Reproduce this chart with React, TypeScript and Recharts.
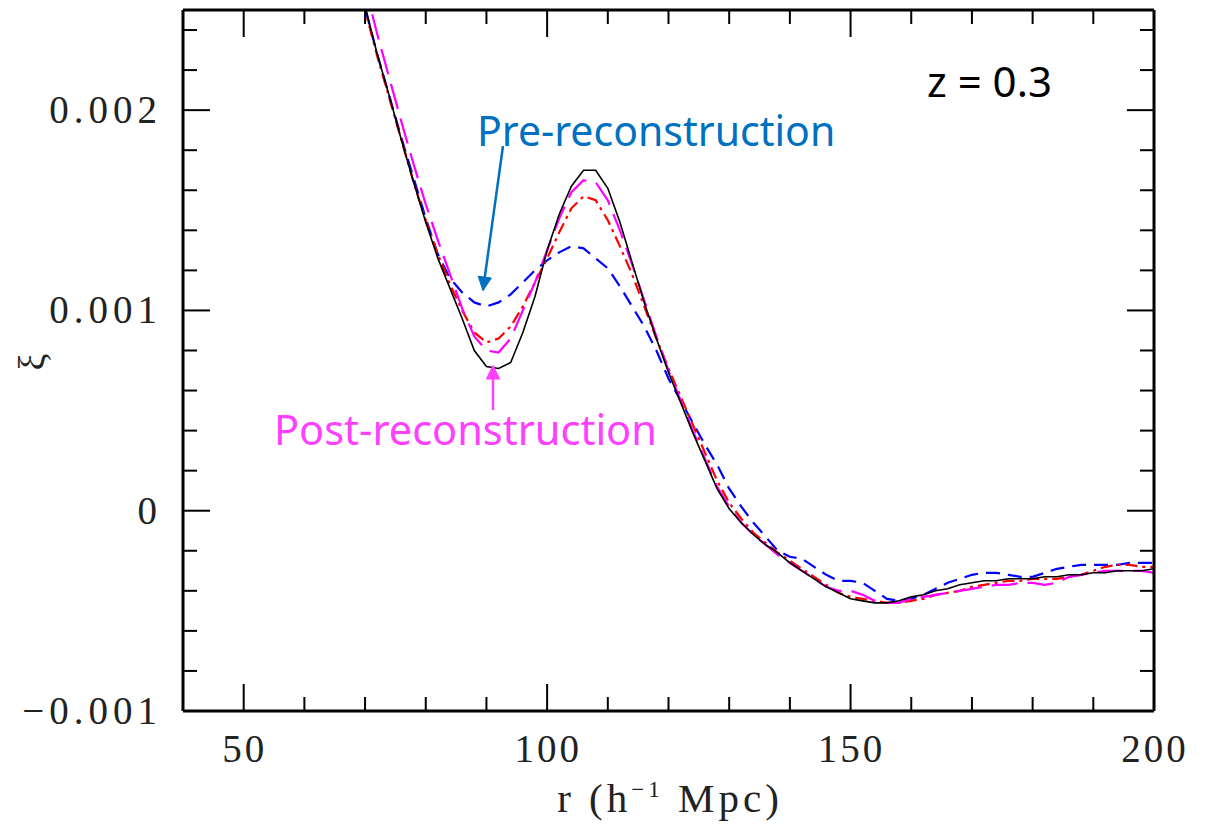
import { LineChart, Line, XAxis, YAxis } from "recharts"

// r in h^-1 Mpc
const rValues = [
  66, 68, 70, 72, 74, 76, 78, 80, 82, 84, 86, 88, 90, 92, 94, 96, 98, 100,
  102, 104, 106, 108, 110, 112, 114, 116, 118, 120, 122, 124, 126, 128, 130,
  132, 134, 136, 138, 140, 142, 144, 146, 148, 150, 152, 154, 156, 158, 160,
  162, 164, 166, 168, 170, 172, 174, 176, 178, 180, 182, 184, 186, 188, 190,
  192, 194, 196, 198, 200,
]

// black solid (linear theory)
const xiLinear = [
  0.00305, 0.00278, 0.00252, 0.00228, 0.00207, 0.00185, 0.00164, 0.00144,
  0.00126, 0.00111, 0.00096, 0.0008, 0.00072, 0.00071, 0.00074, 0.00089,
  0.00107, 0.0013, 0.00148, 0.00162, 0.0017, 0.0017, 0.00161, 0.00144,
  0.00124, 0.00104, 0.00086, 0.00069, 0.00054, 0.00039, 0.00025, 0.00011,
  0.00001, -0.00006, -0.00012, -0.00017, -0.00021, -0.00026, -0.0003,
  -0.00034, -0.00038, -0.00041, -0.00044, -0.00045, -0.00046, -0.00046,
  -0.00045, -0.00043, -0.00042, -0.0004, -0.00039, -0.00037, -0.00036,
  -0.00035, -0.00035, -0.00034, -0.00034, -0.00034, -0.00033, -0.00033,
  -0.00032, -0.00032, -0.00031, -0.00031, -0.0003, -0.0003, -0.0003, -0.00029,
]

// red dash-dot
const xiRed = [
  0.00303, 0.00276, 0.0025, 0.00227, 0.00206, 0.00185, 0.00164, 0.00145,
  0.00128, 0.00113, 0.001, 0.00089, 0.00084, 0.00086, 0.00092, 0.00102,
  0.00114, 0.00126, 0.00139, 0.00151, 0.00157, 0.00155, 0.00145, 0.00132,
  0.00118, 0.00102, 0.00086, 0.00071, 0.00057, 0.00043, 0.00029, 0.00015,
  0.00004, -0.00004, -0.00011, -0.00016, -0.00021, -0.00025, -0.00029,
  -0.00033, -0.00037, -0.00041, -0.00043, -0.00044, -0.00045, -0.00046,
  -0.00046, -0.00045, -0.00044, -0.00042, -0.00041, -0.0004, -0.00038,
  -0.00037, -0.00036, -0.00035, -0.00035, -0.00034, -0.00034, -0.00034,
  -0.00033, -0.00032, -0.0003, -0.00028, -0.00027, -0.00027, -0.00028, -0.00028,
]

// magenta long dash (post-reconstruction)
const xiPost = [
  0.00318, 0.0029, 0.00262, 0.00238, 0.00216, 0.00194, 0.00173, 0.00153,
  0.00135, 0.00118, 0.00101, 0.00087, 0.0008, 0.00079, 0.00086, 0.001,
  0.00114, 0.0013, 0.00146, 0.00159, 0.00165, 0.00164, 0.00155, 0.0014,
  0.00123, 0.00105, 0.00087, 0.0007, 0.00055, 0.0004, 0.00026, 0.00012,
  0.00002, -0.00006, -0.00012, -0.00017, -0.00022, -0.00026, -0.0003,
  -0.00034, -0.00038, -0.0004, -0.0004, -0.00042, -0.00045, -0.00046,
  -0.00046, -0.00044, -0.00043, -0.00042, -0.00041, -0.0004, -0.00039,
  -0.00038, -0.00037, -0.00037, -0.00036, -0.00036, -0.00037, -0.00036,
  -0.00033, -0.00032, -0.00031, -0.0003, -0.0003, -0.0003, -0.0003, -0.00031,
]

// blue dashed (pre-reconstruction)
const xiPre = [
  0.00303, 0.00277, 0.00251, 0.00228, 0.00207, 0.00186, 0.00166, 0.00146,
  0.00128, 0.00116, 0.00109, 0.00104, 0.00102, 0.00104, 0.00108, 0.00114,
  0.0012, 0.00125, 0.00129, 0.00132, 0.00131, 0.00126, 0.00121, 0.00112,
  0.00102, 0.00092, 0.0008, 0.00066, 0.00055, 0.00044, 0.00033, 0.00023,
  0.00011, 0.00002, -0.00006, -0.00013, -0.0002, -0.00023, -0.00024,
  -0.00028, -0.00032, -0.00035, -0.00035, -0.00036, -0.0004, -0.00044,
  -0.00045, -0.00044, -0.00042, -0.00039, -0.00036, -0.00034, -0.00032,
  -0.00031, -0.00031, -0.00032, -0.00033, -0.00033, -0.00031, -0.00029,
  -0.00028, -0.00027, -0.00027, -0.00027, -0.00027, -0.00026, -0.00026, -0.00026,
]

const xTicks = [40, 50, 60, 70, 80, 90, 100, 110, 120, 130, 140, 150, 160, 170, 180, 190, 200]
const xLabels = [50, 100, 150, 200]
const yTicks = [
  -0.001, -0.0008, -0.0006, -0.0004, -0.0002, 0, 0.0002, 0.0004, 0.0006,
  0.0008, 0.001, 0.0012, 0.0014, 0.0016, 0.0018, 0.002, 0.0022, 0.0024,
]
const yLabels = ["\u22120.001", "0", "0.001", "0.002"]

const data = rValues.map((r, i) => ({
  r,
  lin: xiLinear[i],
  red: xiRed[i],
  post: xiPost[i],
  pre: xiPre[i],
}))

const MAJOR = 27
const MINOR = 14
const numFont = "'Liberation Serif', serif"

const isMajorY = (v: number) => Math.abs(v * 1000 - Math.round(v * 1000)) < 1e-9
const fmtY = (v: number) => {
  const k = Math.round(v * 1000)
  if (k === 0) return yLabels[1]
  if (k === -1) return yLabels[0]
  if (k === 1) return yLabels[2]
  if (k === 2) return yLabels[3]
  return ""
}

function BottomTick({ x, y, payload }: any) {
  const v = payload.value
  const major = v % 50 === 0
  return (
    <g>
      <line x1={x} x2={x} y1={y} y2={y - (major ? MAJOR : MINOR)} stroke="#000" strokeWidth={2} />
      {xLabels.includes(v) && (
        <text x={x + 1} y={y + 51} textAnchor="middle" fontFamily={numFont} fontSize={39} fill="#222" letterSpacing={3}>
          {v}
        </text>
      )}
    </g>
  )
}

function TopTick({ x, y, payload }: any) {
  const major = payload.value % 50 === 0
  return <line x1={x} x2={x} y1={y} y2={y + (major ? MAJOR : MINOR)} stroke="#000" strokeWidth={2} />
}

function LeftTick({ x, y, payload }: any) {
  const v = payload.value
  const major = isMajorY(v)
  return (
    <g>
      <line x1={x} x2={x + (major ? MAJOR : MINOR)} y1={y} y2={y} stroke="#000" strokeWidth={2} />
      {major && (
        <text x={x - 21} y={y + 13} textAnchor="end" fontFamily={numFont} fontSize={39} fill="#222" letterSpacing={5}>
          {fmtY(v)}
        </text>
      )}
    </g>
  )
}

function RightTick({ x, y, payload }: any) {
  const major = isMajorY(payload.value)
  return <line x1={x} x2={x - (major ? MAJOR : MINOR)} y1={y} y2={y} stroke="#000" strokeWidth={2} />
}

export default function App() {
  const frame = { stroke: "#000", strokeWidth: 3 }
  const annoFont = "'Noto Sans', sans-serif"
  return (
    <div style={{ position: "absolute", left: 0, top: 0, width: 1214, height: 825, background: "#fff" }}>
      <LineChart
        width={1214}
        height={825}
        data={data}
        margin={{ top: 9, right: 59, bottom: 54, left: 8 }}
      >
        <XAxis
          dataKey="r"
          type="number"
          domain={[40, 200]}
          ticks={xTicks}
          interval={0}
          height={60}
          tickSize={0}
          tickMargin={0}
          tickLine={false}
          axisLine={frame}
          tick={<BottomTick />}
          allowDataOverflow
        />
        <XAxis
          xAxisId="top"
          orientation="top"
          dataKey="r"
          type="number"
          domain={[40, 200]}
          ticks={xTicks}
          interval={0}
          height={1}
          tickSize={0}
          tickMargin={0}
          tickLine={false}
          axisLine={frame}
          tick={<TopTick />}
          allowDataOverflow
        />
        <YAxis
          type="number"
          domain={[-0.001, 0.0025]}
          ticks={yTicks}
          interval={0}
          width={175}
          tickSize={0}
          tickMargin={0}
          tickLine={false}
          axisLine={frame}
          tick={<LeftTick />}
          allowDataOverflow
        />
        <YAxis
          yAxisId="right"
          orientation="right"
          type="number"
          domain={[-0.001, 0.0025]}
          ticks={yTicks}
          interval={0}
          width={1}
          tickSize={0}
          tickMargin={0}
          tickLine={false}
          axisLine={frame}
          tick={<RightTick />}
          allowDataOverflow
        />
        <Line type="linear" dataKey="pre" stroke="#0000ff" strokeWidth={2.2} strokeDasharray="14 8" dot={false} isAnimationActive={false} />
        <Line type="linear" dataKey="red" stroke="#ff0000" strokeWidth={2.2} strokeDasharray="12 5 3 5" dot={false} isAnimationActive={false} />
        <Line
          type="linear"
          dataKey="post"
          xAxisId="top"
          yAxisId="right"
          stroke="#ff00ff"
          strokeWidth={2.2}
          strokeDasharray="26 10"
          dot={false}
          isAnimationActive={false}
        />
        <Line
          type="linear"
          dataKey="lin"
          xAxisId="top"
          yAxisId="right"
          stroke="#000000"
          strokeWidth={1.6}
          dot={false}
          isAnimationActive={false}
        />
      </LineChart>
      <svg
        width={1214}
        height={825}
        style={{ position: "absolute", left: 0, top: 0, pointerEvents: "none" }}
      >
        <defs>
          <marker id="ahBlue" viewBox="0 0 10 10" refX="9" refY="5" markerWidth="6" markerHeight="6" orient="auto" markerUnits="strokeWidth">
            <path d="M0,0 L10,5 L0,10 z" fill="#0070c0" />
          </marker>
          <marker id="ahPink" viewBox="0 0 10 10" refX="9" refY="5" markerWidth="6" markerHeight="6" orient="auto" markerUnits="strokeWidth">
            <path d="M0,0 L10,5 L0,10 z" fill="#ff40ff" />
          </marker>
        </defs>
        <text x={927} y={97} fontFamily={annoFont} fontSize={42} fill="#000">
          z = 0.3
        </text>
        <text x={477} y={146} fontFamily={annoFont} fontSize={41} fill="#0070c0">
          Pre-reconstruction
        </text>
        <line x1={503} y1={146} x2={483} y2={290} stroke="#0070c0" strokeWidth={2.5} markerEnd="url(#ahBlue)" />
        <text x={274} y={445} fontFamily={annoFont} fontSize={41.5} fill="#ff40ff">
          Post-reconstruction
        </text>
        <line x1={493} y1={410} x2={493} y2={366} stroke="#ff40ff" strokeWidth={2.5} markerEnd="url(#ahPink)" />
        <text x={670} y={812} textAnchor="middle" fontFamily={numFont} fontSize={41} fill="#222" letterSpacing={4}>
          r (h
          <tspan fontSize={23} dy={-15}>
            {"\u22121"}
          </tspan>
          <tspan dy={15}> Mpc)</tspan>
        </text>
        <text
          x={0}
          y={0}
          transform="translate(45,362) rotate(-90)"
          textAnchor="middle"
          fontFamily={numFont}
          fontSize={38}
          fill="#222"
        >
          ξ
        </text>
      </svg>
    </div>
  )
}
